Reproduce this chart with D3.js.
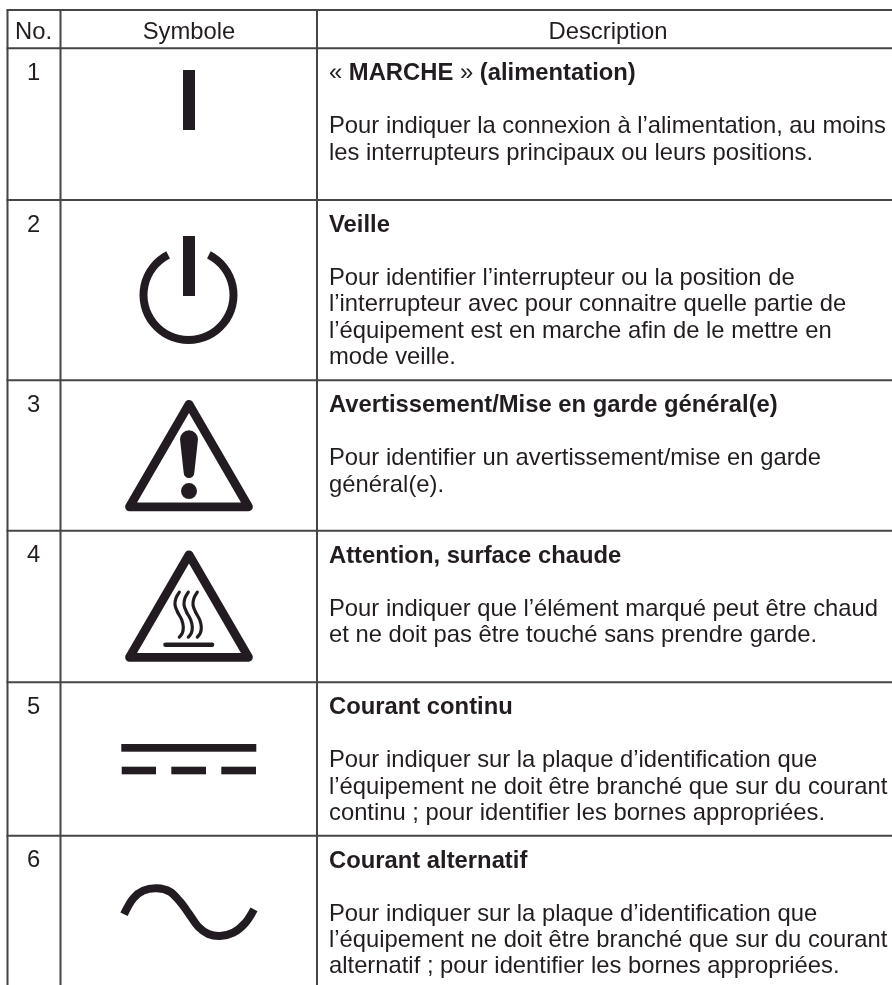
<!DOCTYPE html>
<html lang="fr">
<head>
<meta charset="utf-8">
<title>Symboles</title>
<script src="https://cdn.jsdelivr.net/npm/d3@7"></script>
<style>
  html, body { margin: 0; padding: 0; background: #fff; }
  svg { display: block; }
  text { font-family: "Liberation Sans", Arial, sans-serif; font-size: 23.8px; fill: #231f20; }
</style>
</head>
<body>
<div id="chart"></div>
<script>
var headers = ["No.", "Symbole", "Description"];
var rowNumbers = ["1", "2", "3", "4", "5", "6"];
var titles = [
    "« MARCHE » (alimentation)",
    "Veille",
    "Avertissement/Mise en garde général(e)",
    "Attention, surface chaude",
    "Courant continu",
    "Courant alternatif"
];
var bodies = [
    ["Pour indiquer la connexion à l’alimentation, au moins", "les interrupteurs principaux ou leurs positions."],
    ["Pour identifier l’interrupteur ou la position de", "l’interrupteur avec pour connaitre quelle partie de", "l’équipement est en marche afin de le mettre en", "mode veille."],
    ["Pour identifier un avertissement/mise en garde", "général(e)."],
    ["Pour indiquer que l’élément marqué peut être chaud", "et ne doit pas être touché sans prendre garde."],
    ["Pour indiquer sur la plaque d’identification que", "l’équipement ne doit être branché que sur du courant", "continu ; pour identifier les bornes appropriées."],
    ["Pour indiquer sur la plaque d’identification que", "l’équipement ne doit être branché que sur du courant", "alternatif ; pour identifier les bornes appropriées."]
];

var width = 892,
    height = 985;
var ink = "#231f20",
    rule = "#454545";

// table layout
var columnLines = [7.5, 60.5, 317];
var headerTop = 10,
    rowTops = [48.3, 200, 380.3, 530.8, 682.3, 835.7];
var rowY = d3.scaleOrdinal().domain(rowNumbers).range(rowTops);
var headerX = d3.scaleOrdinal().domain(headers).range([33.5, 189, 608]);
var numberX = 33.5,
    symbolX = 189,
    textX = 329;
var lineHeight = 26.4;

var svg = d3.select("#chart").append("svg")
    .attr("width", width)
    .attr("height", height);

// the reference is a slightly soft scan
svg.append("defs").append("filter")
    .attr("id", "soft")
    .append("feGaussianBlur")
    .attr("stdDeviation", 0.35);

var root = svg.append("g").attr("filter", "url(#soft)");

// grid, open on the right and at the bottom
var grid = root.append("g")
    .attr("stroke", rule)
    .attr("stroke-width", 2);

grid.selectAll("line.h")
    .data([headerTop].concat(rowTops))
    .enter().append("line")
    .attr("class", "h")
    .attr("x1", columnLines[0] - 1)
    .attr("x2", width)
    .attr("y1", function(d) { return d; })
    .attr("y2", function(d) { return d; });

grid.selectAll("line.v")
    .data(columnLines)
    .enter().append("line")
    .attr("class", "v")
    .attr("x1", function(d) { return d; })
    .attr("x2", function(d) { return d; })
    .attr("y1", headerTop)
    .attr("y2", height);

// header
root.selectAll("text.head")
    .data(headers)
    .enter().append("text")
    .attr("class", "head")
    .attr("text-anchor", "middle")
    .attr("x", function(d) { return headerX(d); })
    .attr("y", 38.5)
    .text(function(d) { return d; });

// rows
var rows = root.selectAll("g.row")
    .data(rowNumbers)
    .enter().append("g")
    .attr("class", "row")
    .attr("transform", function(d) { return "translate(0," + rowY(d) + ")"; });

rows.append("text")
    .attr("text-anchor", "middle")
    .attr("x", numberX)
    .attr("y", 31.5)
    .text(function(d) { return d; });

// the guillemets of the first title are lighter than the words
rows.append("text")
    .attr("x", textX)
    .attr("y", 32)
    .attr("font-weight", "bold")
    .each(function(d, i) {
        var label = d3.select(this);
        titles[i].split(/([«»])/).forEach(function(part) {
            label.append("tspan")
                .attr("font-weight", /[«»]/.test(part) ? "normal" : null)
                .text(part);
        });
    });

rows.each(function(d, i) {
    d3.select(this).selectAll("text.body")
        .data(bodies[i])
        .enter().append("text")
        .attr("class", "body")
        .attr("x", textX)
        .attr("y", function(t, j) { return 85 + j * lineHeight; })
        .text(function(t) { return t; });
});

// symbols, each one drawn relative to the top of its row
function symbol(n) {
    return root.append("g")
        .attr("transform", "translate(" + symbolX + "," + rowY(n) + ")");
}

var line = d3.line();
var smooth = d3.line().curve(d3.curveCatmullRom);

function bar(g, x0, x1, y0, y1) {
    g.append("rect")
        .attr("x", x0)
        .attr("y", y0)
        .attr("width", x1 - x0)
        .attr("height", y1 - y0)
        .attr("fill", ink);
}

function triangle(g) {
    g.append("path")
        .attr("d", line([[0, 24], [59.5, 126.5], [-59.5, 126.5]]) + "Z")
        .attr("fill", "none")
        .attr("stroke", ink)
        .attr("stroke-width", 8.7)
        .attr("stroke-linejoin", "round");
}

// 1: marche
bar(symbol("1"), -6, 6, 21.7, 81.7);

// 2: veille
var standby = symbol("2");
bar(standby, -6, 6, 36, 96);
standby.append("path")
    .attr("transform", "translate(-0.5,95)")
    .attr("d", d3.arc()
        .innerRadius(41)
        .outerRadius(49)
        .startAngle(0.47)
        .endAngle(2 * Math.PI - 0.47)())
    .attr("fill", ink);

// 3: avertissement
var warning = symbol("3");
triangle(warning);
warning.append("path")
    .attr("d", "M-9,59A9,9 0 0 1 9,59L5.3,92.5A5.3,5.3 0 0 1 -5.3,92.5Z")
    .attr("fill", ink);
warning.append("circle")
    .attr("cy", 110.8)
    .attr("r", 8)
    .attr("fill", ink);

// 4: surface chaude
var hot = symbol("4");
triangle(hot);
var wave = [[-9.7, 61.3], [-13, 67.3], [-14, 74], [-11.7, 80.7], [-7.3, 89], [-5.7, 96.3], [-6.7, 102.3], [-9.7, 106.3]];
hot.selectAll("path.wave")
    .data([0, 9, 18])
    .enter().append("path")
    .attr("class", "wave")
    .attr("transform", function(d) { return "translate(" + d + ",0)"; })
    .attr("d", smooth(wave))
    .attr("fill", "none")
    .attr("stroke", ink)
    .attr("stroke-width", 3.2)
    .attr("stroke-linecap", "round");
hot.append("path")
    .attr("d", line([[-23.5, 114], [23, 114]]))
    .attr("stroke", ink)
    .attr("stroke-width", 4.6)
    .attr("stroke-linecap", "round");

// 5: courant continu
var direct = symbol("5");
bar(direct, -67.7, 67.3, 61.7, 69.4);
[[-67.3, -33], [-17.7, 17], [32.3, 67]].forEach(function(d) {
    bar(direct, d[0], d[1], 84.4, 92);
});

// 6: courant alternatif
var sine = [[-65, 78.6], [-55.7, 62.6], [-45.7, 55], [-32.3, 52.6], [-19, 56], [-9, 66], [-0.3, 77.6],
    [9.3, 91], [19.3, 98.3], [31, 100.3], [44.3, 97], [56, 87.6], [65, 73.6]];
symbol("6").append("path")
    .attr("d", smooth(sine))
    .attr("fill", "none")
    .attr("stroke", ink)
    .attr("stroke-width", 8);
</script>
</body>
</html>
